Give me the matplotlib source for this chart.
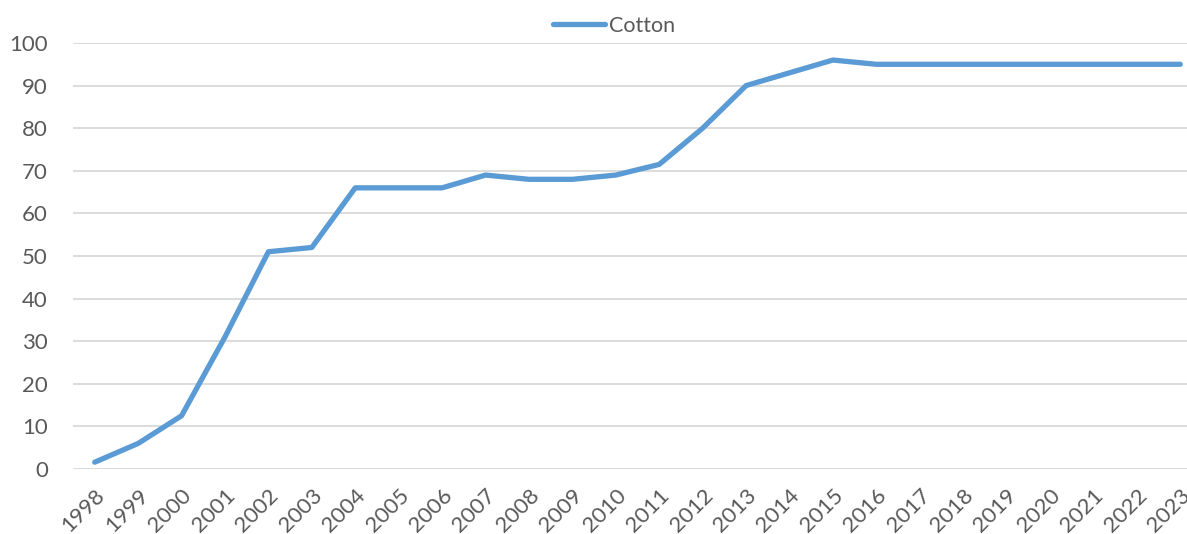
import numpy as np
import matplotlib.pyplot as plt

### Data
years = [str(y) for y in range(1998, 2024)]
cotton = [1.6, 6, 12.5, 31, 51, 52, 66, 66, 66, 69, 68, 68, 69, 71.5, 80, 90,
          93, 96, 95, 95, 95, 95, 95, 95, 95, 95]

plt.rcParams['font.family'] = ['Lato', 'DejaVu Sans']
txt_color = "#595959"

fig = plt.figure(figsize=(11.87, 5.34), dpi=100)
# axes runs past the right edge, like the cropped excel chart
left, right = 73 / 1187, 1202 / 1187
bottom, top = (534 - 469) / 534, (534 - 43) / 534
ax = fig.add_axes([left, bottom, right - left, top - bottom])

x = np.arange(len(years))
ax.plot(x, cotton, color="#5B9BD5", lw=3.8, solid_capstyle="round", label="Cotton")

ax.set_xlim(-0.5, len(years) - 0.5)
ax.set_ylim(0, 100)
ax.set_yticks(range(0, 101, 10))
ax.set_xticks(x)
ax.set_xticklabels(years, rotation=45, ha="right", rotation_mode="anchor")

ax.grid(axis="y", color="#d9d9d9", lw=1.3)
ax.set_axisbelow(True)
for s in ax.spines.values():
    s.set_visible(False)
ax.tick_params(axis="both", length=0, labelsize=16, labelcolor=txt_color)
ax.tick_params(axis="y", pad=18)
ax.tick_params(axis="x", pad=12)  # labels sit low and get clipped a bit, as in the original

leg = ax.legend(loc="center", bbox_to_anchor=(614 / 1187, 1 - 26 / 534),
                bbox_transform=fig.transFigure, frameon=False, fontsize=15.5,
                handlelength=2.4, handletextpad=0.2)
for t in leg.get_texts():
    t.set_color(txt_color)

fig.savefig("out.png", dpi=100)
